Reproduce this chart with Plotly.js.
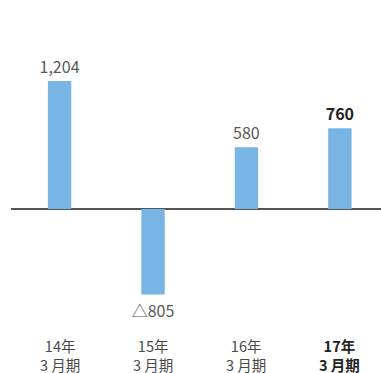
<!DOCTYPE html>
<html>
<head>
<meta charset="utf-8">
<script src="https://cdn.plot.ly/plotly-3.0.1.min.js"></script>
<style>html,body{margin:0;padding:0;background:#fff;}#chart{width:381px;height:373px;}</style>
</head>
<body>
<div id="chart"></div>
<script>
const categories = ["14年3月期", "15年3月期", "16年3月期", "17年3月期"];
const yearLabels = ["14年", "15年", "16年", "17年"];
const periodLabels = ["3 月期", "3 月期", "3 月期", "3 月期"];
const values = [1204, -805, 580, 760];
const valueLabels = ["1,204", "△805", "580", "<b>760</b>"];
const highlight = [false, false, false, true];

const FONT = "'Noto Sans CJK JP', 'Noto Sans', sans-serif";

const trace = {
  type: "bar",
  x: categories,
  y: values,
  width: 0.25,
  marker: {color: "#78B4E4"},
  text: valueLabels,
  textposition: "outside",
  constraintext: "none",
  cliponaxis: false,
  textfont: {family: FONT, size: 16, color: highlight.map(h => h ? "#222222" : "#595959")},
  hoverinfo: "none"
};

const annotations = categories.map((c, i) => {
  const col = highlight[i] ? "#222222" : "#4a4a4a";
  const wrap = s => highlight[i] ? "<b>" + s + "</b>" : s;
  return {x: c, xref: "x", y: 0, yref: "paper", yanchor: "middle", yshift: -35,
    text: wrap(yearLabels[i]) + "<br>" + wrap(periodLabels[i]), showarrow: false,
    font: {family: FONT, size: 14.5, color: col}};
});

const layout = {
  width: 381, height: 373,
  margin: {l: 11, r: 0, t: 20, b: 53},
  paper_bgcolor: "#fff", plot_bgcolor: "#fff",
  showlegend: false,
  xaxis: {type: "category", categoryorder: "array", categoryarray: categories,
    range: [-0.52, 3.44], showticklabels: false, showgrid: false, zeroline: false, showline: false, ticks: ""},
  yaxis: {range: [-1044, 1778], showticklabels: false, showgrid: false, zeroline: true,
    zerolinecolor: "#555555", zerolinewidth: 1.5, showline: false, ticks: ""},
  annotations: annotations,
  font: {family: FONT}
};

Plotly.newPlot("chart", [trace], layout, {displayModeBar: false, staticPlot: true});
</script>
</body>
</html>
